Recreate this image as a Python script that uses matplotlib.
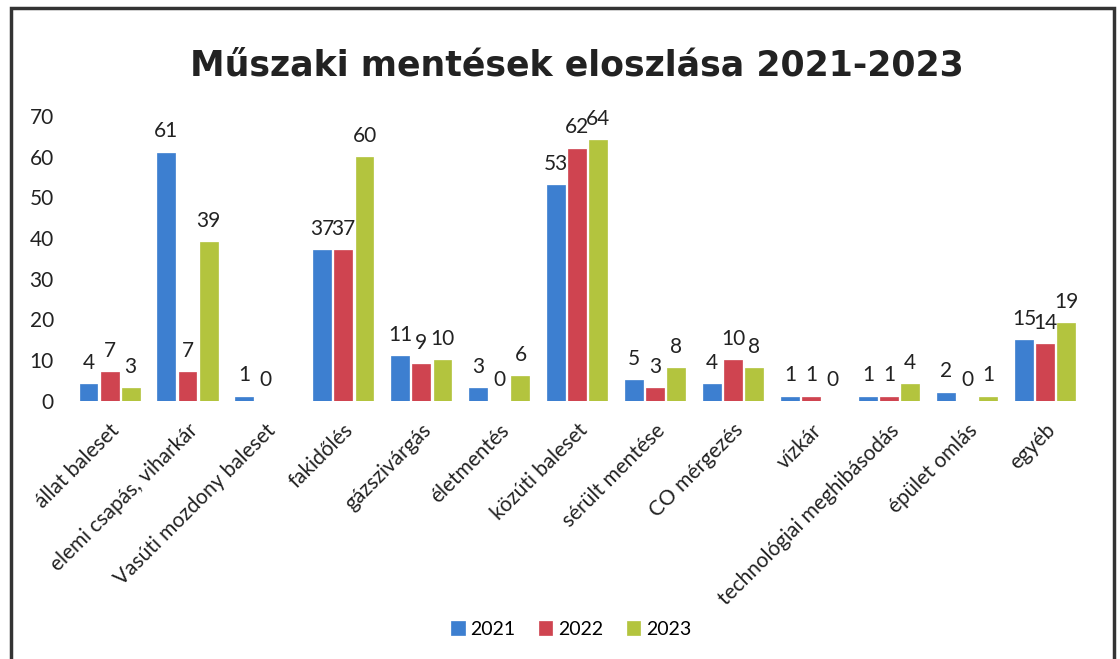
import numpy as np
import matplotlib
matplotlib.use("Agg")
import matplotlib.pyplot as plt
from matplotlib.patches import Rectangle

categories = ["állat baleset", "elemi csapás, viharkár", "Vasúti mozdony baleset",
              "fakidőlés", "gázszivárgás", "életmentés", "közúti baleset",
              "sérült mentése", "CO mérgezés", "vízkár",
              "technológiai meghibásodás", "épület omlás", "egyéb"]
v2021 = [4, 61, 1, 37, 11, 3, 53, 5, 4, 1, 1, 2, 15]
v2022 = [7, 7, 0, 37, 9, 0, 62, 3, 10, 1, 1, 0, 14]
v2023 = [3, 39, np.nan, 60, 10, 6, 64, 8, 8, 0, 4, 1, 19]
series = [("2021", v2021, "#3d7fd0"), ("2022", v2022, "#cf4450"), ("2023", v2023, "#b3c43e")]
yticks = [0, 10, 20, 30, 40, 50, 60, 70]

plt.rcParams['font.family'] = ['Lato', 'DejaVu Sans']

fig = plt.figure(figsize=(11.2, 6.59), dpi=100)
ax = fig.add_axes([0.063, 0.392, 0.905, 0.432])

x = np.arange(len(categories))
w = 0.23
for i, (name, vals, col) in enumerate(series):
    pos = x + (i - 1) * 0.27
    ax.bar(pos, vals, width=w, color=col, label=name, edgecolor=col, linewidth=0.5)
    for p, v in zip(pos, vals):
        if np.isnan(v):
            continue
        ax.annotate(f"{int(v)}", (p, v), xytext=(0, 8), textcoords="offset points",
                    ha="center", va="bottom", fontsize=15, color="#222222")

ax.set_xlim(-0.5, len(categories) - 0.5)
ax.set_ylim(0, 70)
ax.set_yticks(yticks)
ax.set_yticklabels([str(t) for t in yticks], fontsize=15, color="#222222")
ax.set_xticks(x)
ax.set_xticklabels(categories, rotation=45, ha="right", rotation_mode="anchor",
                   fontsize=15, color="#222222")
ax.tick_params(axis="x", length=0, pad=14)
ax.tick_params(axis="y", length=0, pad=12)
for s in ax.spines.values():
    s.set_visible(False)

fig.text(0.515, 0.9, "Műszaki mentések eloszlása 2021-2023", ha="center", va="center",
         fontsize=25, fontweight="bold", family="DejaVu Sans", color="#222222")

fig.legend(loc="center", bbox_to_anchor=(0.51, 0.045), ncol=3, frameon=False,
           fontsize=14, handlelength=0.7, handleheight=0.7, handletextpad=0.3,
           columnspacing=1.2)

fig.patches.append(Rectangle((0.01, -0.01), 0.985, 0.998, transform=fig.transFigure,
                             fill=False, edgecolor="#333333", linewidth=2.5))

fig.savefig("out.png", dpi=100)
